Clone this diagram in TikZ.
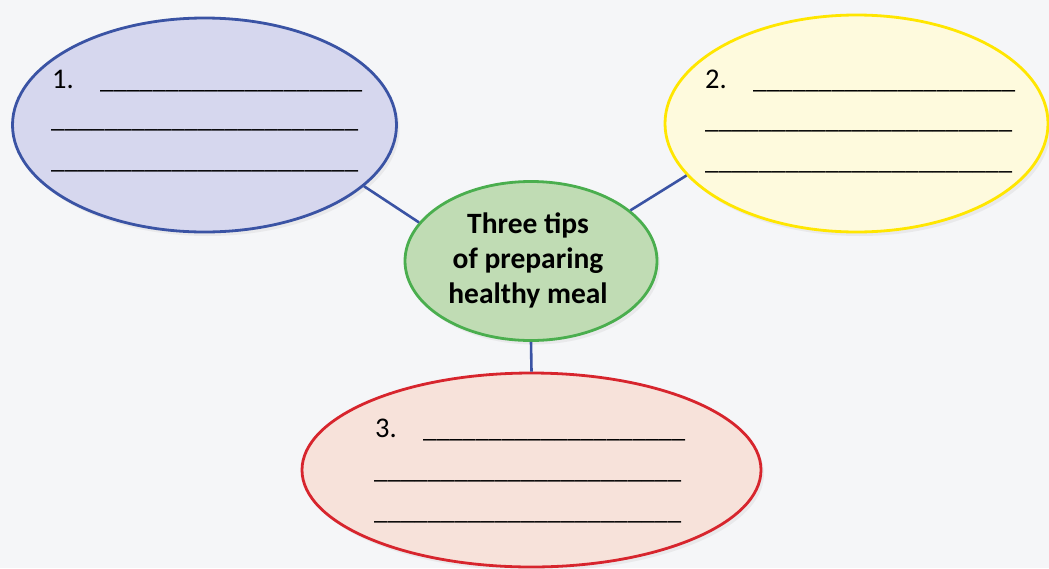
\documentclass[tikz,border=0pt]{standalone}
\usepackage{fontspec}
\setmainfont{Carlito}
\usetikzlibrary{shapes.geometric,shadows}
\definecolor{bgc}{HTML}{F5F6F8}
\definecolor{bluefill}{HTML}{D6D7EE}
\definecolor{bluedraw}{HTML}{3A53A4}
\definecolor{yelfill}{HTML}{FEFADD}
\definecolor{yeldraw}{HTML}{FFE600}
\definecolor{redfill}{HTML}{F7E2DA}
\definecolor{reddraw}{HTML}{D7252D}
\definecolor{grnfill}{HTML}{C0DCB4}
\definecolor{grndraw}{HTML}{4AAE4E}
\tikzset{
  bubble/.style={ellipse, inner sep=0pt, line width=2.8pt,
    drop shadow={opacity=0.10, shadow xshift=3pt, shadow yshift=-4pt}},
  link/.style={draw=bluedraw, line width=2.6pt},
  numtext/.style={anchor=base west, inner sep=0pt, font=\fontsize{28.5}{32}\selectfont},
  blankA/.style={anchor=base west, inner sep=0pt, font=\fontsize{26.3}{30}\selectfont},
  blankB/.style={anchor=base west, inner sep=0pt, font=\fontsize{26.8}{30}\selectfont},
}
\begin{document}
\begin{tikzpicture}[x=1pt,y=-1pt]
\fill[bgc] (0,0) rectangle (1049,568);
\useasboundingbox (0,0) rectangle (1049,568);

\node[bubble, fill=bluefill, draw=bluedraw, minimum width=384pt, minimum height=214pt] (e1) at (204.5,125) {};
\node[bubble, fill=yelfill, draw=yeldraw, minimum width=383pt, minimum height=217pt] (e2) at (856.5,123.5) {};
\node[bubble, fill=redfill, draw=reddraw, minimum width=459pt, minimum height=194pt] (e3) at (531.5,470) {};
\node[bubble, fill=grnfill, draw=grndraw, minimum width=252pt, minimum height=159pt] (c) at (531,261) {};

\draw[link] (e1.-21.8) -- (c.161.3);
\draw[link] (c.27.5) -- (e2.-163.8);
\draw[link] (c.south) -- (e3.north);

\node[align=center, inner sep=0pt, font=\bfseries\fontsize{29.5}{35}\selectfont] (ct) at (528,260) {Three tips\\of preparing\\healthy meal};

% bubble 1
\node[numtext] (n1) at (52,88) {1.};
\node[blankA] (b11) at (100,88) {\_\_\_\_\_\_\_\_\_\_\_\_\_\_\_\_\_\_\_\_};
\node[blankB] (b12) at (51,127) {\_\_\_\_\_\_\_\_\_\_\_\_\_\_\_\_\_\_\_\_\_\_\_};
\node[blankB] (b13) at (51,168) {\_\_\_\_\_\_\_\_\_\_\_\_\_\_\_\_\_\_\_\_\_\_\_};

% bubble 2
\node[numtext] (n2) at (705,88) {2.};
\node[blankA] (b21) at (753,88) {\_\_\_\_\_\_\_\_\_\_\_\_\_\_\_\_\_\_\_\_};
\node[blankB] (b22) at (705,128) {\_\_\_\_\_\_\_\_\_\_\_\_\_\_\_\_\_\_\_\_\_\_\_};
\node[blankB] (b23) at (705,169) {\_\_\_\_\_\_\_\_\_\_\_\_\_\_\_\_\_\_\_\_\_\_\_};

% bubble 3
\node[numtext] (n3) at (375,437) {3.};
\node[blankA] (b31) at (423,437) {\_\_\_\_\_\_\_\_\_\_\_\_\_\_\_\_\_\_\_\_};
\node[blankB] (b32) at (374,478) {\_\_\_\_\_\_\_\_\_\_\_\_\_\_\_\_\_\_\_\_\_\_\_};
\node[blankB] (b33) at (374,519) {\_\_\_\_\_\_\_\_\_\_\_\_\_\_\_\_\_\_\_\_\_\_\_};
\end{tikzpicture}
\end{document}
